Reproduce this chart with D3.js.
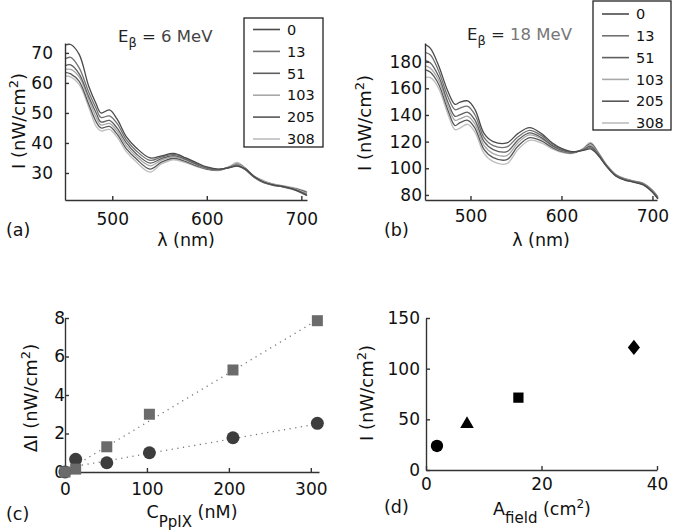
<!DOCTYPE html>
<html lang="en">
<head>
<meta charset="UTF-8">
<title>PpIX spectra</title>
<script src="https://cdnjs.cloudflare.com/ajax/libs/d3/7.9.0/d3.min.js"></script>
<style>
  body { margin: 0; background: #fff; }
  svg { font-family: "DejaVu Sans", sans-serif; }
  .axis path, .axis line { stroke: #333; stroke-width: 1.4; }
  .axis text { font-size: 17px; fill: #111; font-family: "DejaVu Sans", sans-serif; }
</style>
</head>
<body>
<svg id="fig" width="674" height="532"></svg>
<script>
// ---- data ----
const wavelengths = [450,456,465,475,483,488,497,505,515,525,540,552,565,578,590,600,612,624,632,640,650,660,670,680,690,700,706];
const concLabels = ["0", "13", "51", "103", "205", "308"];
const lineGrays = ["#4a4a4a", "#727272", "#5e5e5e", "#a8a8a8", "#585858", "#bdbdbd"];

// I (nW/cm2) for E = 6 MeV, one row per concentration
const spectra6MeV = [
  [72.6,72.8,69.5,59,53,50,51,48,42,38.5,35,35.7,36.5,35,33.3,32,31.3,31.8,32.3,31.5,28.8,27,26,25.5,24.8,23.5,22.5],
  [68,68.5,65,57,51.5,48.5,49,46.5,41,37.5,34.2,35.3,36.2,34.8,33,31.8,31.2,31.8,32.4,31.3,28.6,26.8,25.9,25.4,24.6,23.4,22.5],
  [65.7,66,63,55.5,50,47,47.5,45,40,36.5,33.3,34.8,35.8,34.5,32.8,31.6,31.1,31.9,32.6,31.3,28.6,26.9,26,25.5,24.8,23.6,22.8],
  [64.5,64.5,62,54.5,48.5,46,46.5,44,39,35.7,32.4,34.3,35.4,34.2,32.6,31.5,31,32,33,31.6,28.8,27.3,26.3,25.7,25,24,23.2],
  [63.5,63,60.5,53,47,45,45.5,43,38,34.8,31.3,33.6,34.9,33.8,32.3,31.3,30.9,32,33,31.7,28.9,27.2,26.2,25.6,25,24.2,23.5],
  [62.3,62,59.5,52,45.5,44,44.5,42,37,33.8,30.3,33,34.4,33.4,32,31.2,30.8,32.2,33.5,31.9,29,27.5,26.4,25.8,25.2,24.4,23.8]
];

// I (nW/cm2) for E = 18 MeV
const spectra18MeV = [
  [193,190,177,158,148,149.5,150.5,144,126,120,119,126,130.5,126,119,115,112.5,113.5,114.5,110,101,94,91,89.5,87.5,82,77],
  [187,185,173,154,144,145,146.5,140,123,117,116,123.5,128.5,124.5,118,114.3,112.3,113.8,115.5,110.5,101.2,94.2,91.2,89.6,87.7,82.3,77.2],
  [181,179,169,150,139,140,142,136,120,114,112.5,121,126.5,123,117,113.6,112,114,116.5,111,101.5,94.5,91.5,89.8,88,82.6,77.5],
  [177,175,166,147,136,137,139,133,117,111,109.5,119,125,122,116.5,113.2,111.8,114.3,117.5,111.5,101.8,94.8,91.8,90,88.3,83,78],
  [174,172,163,144,132,134,136,130,114,108,106.5,116.5,123,120.5,115.5,112.6,111.5,114.5,118.5,112,102,95,92,90.2,88.5,83.3,78.3],
  [168,168,160,141,129,130,133,127,111,105,103.5,114,121,119,114.5,112,111.2,115,119.5,112.5,102.3,95.3,92.3,90.5,88.8,83.6,78.6]
];

// panel (c)
const concentrations = [0, 13, 51, 103, 205, 308];
const deltaISquares = [0, 0.15, 1.31, 3.0, 5.3, 7.86];
const deltaICircles = [0, 0.66, 0.48, 1.0, 1.78, 2.53];
const fitSquares = [[0, 0.02], [308, 7.9]];
const fitCircles = [[0, 0.2], [308, 2.5]];

// panel (d)
const fieldArea = [1.9, 7.1, 16, 36];
const fieldIntensity = [23.7, 45.4, 71.4, 121];
const fieldShapes = ["circle", "triangle", "square", "diamond"];

// ---- drawing ----
const svg = d3.select("#fig");

function drawAxes(x, y, xTicks, yTicks, xPad, yPad) {
  const g = svg.append("g");
  g.append("g").attr("class", "axis")
    .attr("transform", `translate(0,${y.range()[0]})`)
    .call(d3.axisBottom(x).tickValues(xTicks).tickSizeInner(-4).tickSizeOuter(0).tickPadding(xPad));
  g.append("g").attr("class", "axis")
    .attr("transform", `translate(${x.range()[0]},0)`)
    .call(d3.axisLeft(y).tickValues(yTicks).tickSizeInner(-4).tickSizeOuter(0).tickPadding(yPad));
  return g;
}

function yLabel(x, y, main) {
  const t = svg.append("text")
    .attr("transform", `translate(${x},${y}) rotate(-90)`)
    .attr("text-anchor", "middle").attr("font-size", 18).attr("fill", "#111");
  t.append("tspan").text(main + " (nW/cm");
  t.append("tspan").attr("font-size", 13).attr("dy", -7).text("2");
  t.append("tspan").attr("dy", 7).text(")");
}

function panelTag(x, y, s) {
  svg.append("text").attr("x", x).attr("y", y).attr("font-size", 17.5).attr("fill", "#111").text(s);
}

function spectrumPanel(opts) {
  const x = d3.scaleLinear().domain([450, opts.xMax]).range(opts.xRange);
  const y = d3.scaleLinear().domain(opts.yDomain).range([200, 43]);
  const line = d3.line()
    .x((d, i) => x(wavelengths[i]))
    .y(d => y(d))
    .curve(d3.curveCatmullRom);

  const series = opts.data.map((vals, i) => ({ vals, i })).reverse();
  svg.append("g").selectAll("path").data(series).join("path")
    .attr("d", d => line(d.vals))
    .attr("fill", "none")
    .attr("stroke", d => lineGrays[d.i])
    .attr("stroke-width", 1.3);

  drawAxes(x, y, [500, 600, 700], opts.yTicks, opts.xPad, opts.yPad);

  // legend
  const lg = opts.legend;
  svg.append("rect").attr("x", lg.x).attr("y", lg.y).attr("width", lg.w).attr("height", lg.h)
    .attr("fill", "#fff").attr("stroke", "#222").attr("stroke-width", 1.3);
  concLabels.forEach((c, i) => {
    const yy = lg.y0 + i * lg.step;
    svg.append("line").attr("x1", lg.lx).attr("x2", lg.lx + 27).attr("y1", yy).attr("y2", yy)
      .attr("stroke", lineGrays[i]).attr("stroke-width", 1.6);
    svg.append("text").attr("x", lg.lx + 34).attr("y", yy).attr("dy", "0.36em")
      .attr("font-size", 14.5).attr("fill", "#111").text(c);
  });

  // title
  const t = svg.append("text").attr("x", opts.title.x).attr("y", opts.title.y)
    .attr("font-size", 16.5).attr("fill", "#222");
  t.append("tspan").text("E");
  t.append("tspan").attr("font-size", 13).attr("dy", 5).text("β");
  t.append("tspan").attr("dy", -5).text(" = ");
  t.append("tspan").attr("fill", opts.title.color).text(opts.title.energy);

  // axis label
  svg.append("text").attr("x", (opts.xRange[0] + opts.xRange[1]) / 2).attr("y", 246)
    .attr("text-anchor", "middle").attr("font-size", 17.5).attr("fill", "#111").text("λ (nm)");
  yLabel(opts.yLabX, opts.yLabY, "I");
  panelTag(opts.tag.x, 236, opts.tag.s);
}

spectrumPanel({
  data: spectra6MeV, xMax: 706, xRange: [65, 307], yDomain: [21, 73.3],
  yTicks: [30, 40, 50, 60, 70], xPad: 13, yPad: 12,
  legend: { x: 244, y: 18, w: 79, h: 129, y0: 29.5, step: 21.9, lx: 253 },
  title: { x: 118, y: 42, energy: "6 MeV", color: "#444" },
  yLabX: 25, yLabY: 121, tag: { x: 6, s: "(a)" }
});

spectrumPanel({
  data: spectra18MeV, xMax: 705, xRange: [425, 657], yDomain: [76.2, 194],
  yTicks: [80, 100, 120, 140, 160, 180], xPad: 10, yPad: 3,
  legend: { x: 593, y: 1, w: 78, h: 129, y0: 14, step: 21.8, lx: 602 },
  title: { x: 467, y: 40, energy: "18 MeV", color: "#777" },
  yLabX: 371, yLabY: 123, tag: { x: 384, s: "(b)" }
});

// panel (c)
{
  const x = d3.scaleLinear().domain([0, 310]).range([65, 319]);
  const y = d3.scaleLinear().domain([0, 8]).range([472, 318]);
  const fl = d3.line().x(d => x(d[0])).y(d => y(d[1]));
  [fitSquares, fitCircles].forEach(f => {
    svg.append("path").attr("d", fl(f)).attr("fill", "none")
      .attr("stroke", "#777").attr("stroke-width", 1.3).attr("stroke-dasharray", "1.2,4.5");
  });
  drawAxes(x, y, [0, 100, 200, 300], [0, 2, 4, 6, 8], 11, 0);
  svg.append("g").selectAll("circle").data(concentrations).join("circle")
    .attr("cx", d => x(d)).attr("cy", (d, i) => y(deltaICircles[i])).attr("r", 6.5)
    .attr("fill", "#3d3d3d");
  svg.append("g").selectAll("rect").data(concentrations).join("rect")
    .attr("x", d => x(d) - 5.5).attr("y", (d, i) => y(deltaISquares[i]) - 5.5)
    .attr("width", 11).attr("height", 11).attr("fill", "#6b6b6b");

  const t = svg.append("text").attr("x", 192).attr("y", 518).attr("text-anchor", "middle")
    .attr("font-size", 17.5).attr("fill", "#111");
  t.append("tspan").text("C");
  t.append("tspan").attr("dy", 9).attr("font-size", 15).text("PpIX");
  t.append("tspan").attr("dy", -9).text(" (nM)");
  yLabel(37, 398, "ΔI");
  panelTag(6, 520, "(c)");
}

// panel (d)
{
  const x = d3.scaleLinear().domain([0, 40]).range([426, 657]);
  const y = d3.scaleLinear().domain([0, 150]).range([470, 318]);
  drawAxes(x, y, [0, 20, 40], [0, 50, 100, 150], 8, 6);

  const diamond = {
    draw(ctx, size) {
      const h = Math.sqrt(size) * 0.62, w = h * 0.8;
      ctx.moveTo(0, -h); ctx.lineTo(w, 0); ctx.lineTo(0, h); ctx.lineTo(-w, 0); ctx.closePath();
    }
  };
  const symbolOf = { circle: [d3.symbolCircle, 120], triangle: [d3.symbolTriangle, 80],
                     square: [d3.symbolSquare, 105], diamond: [diamond, 150] };
  svg.append("g").selectAll("path").data(fieldArea).join("path")
    .attr("transform", (d, i) => `translate(${x(d)},${y(fieldIntensity[i])})`)
    .attr("d", (d, i) => d3.symbol(symbolOf[fieldShapes[i]][0], symbolOf[fieldShapes[i]][1])())
    .attr("fill", "#000");

  const t = svg.append("text").attr("x", 542).attr("y", 515).attr("text-anchor", "middle")
    .attr("font-size", 17.5).attr("fill", "#111");
  t.append("tspan").text("A");
  t.append("tspan").attr("dy", 8).attr("font-size", 15).text("field");
  t.append("tspan").attr("dy", -8).text(" (cm");
  t.append("tspan").attr("dy", -7).attr("font-size", 12).text("2");
  t.append("tspan").attr("dy", 7).text(")");
  yLabel(373, 393, "I");
  panelTag(384, 513, "(d)");
}
</script>
</body>
</html>
